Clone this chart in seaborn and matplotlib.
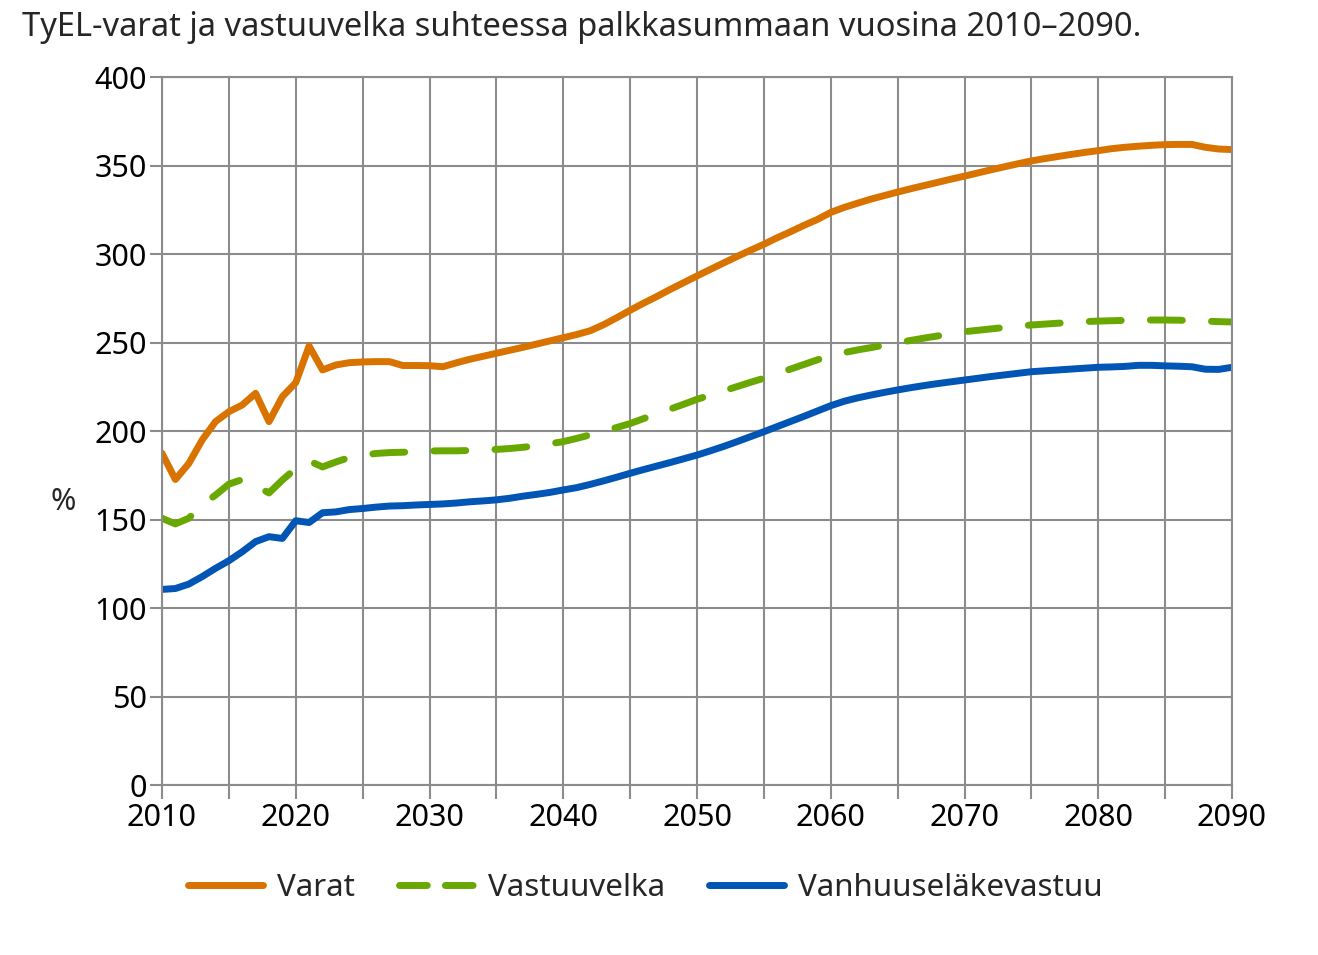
import pandas as pd
import matplotlib.pyplot as plt
import seaborn as sns

# TyEL-varat ja vastuuvelka suhteessa palkkasummaan, % (luettu kuvasta)
vuodet = list(range(2010, 2091))

varat = [
    187.4, 172.6, 181.6, 194.9, 205.3, 210.9, 214.7, 221.3, 205.3, 219.4,
    227.3, 248.0, 234.5, 237.3, 238.6, 239.0, 239.2, 239.2, 237.0, 237.0,
    236.9, 236.3, 238.5, 240.5, 242.2, 243.9, 245.6, 247.3, 249.1, 250.9,
    252.7, 254.5, 256.6, 260.0, 264.0, 268.2, 272.2, 276.0, 280.0, 283.8,
    287.6, 291.3, 295.0, 298.6, 302.1, 305.5, 309.2, 312.6, 316.2, 319.5,
    323.5, 326.3, 328.7, 331.0, 333.0, 335.0, 336.9, 338.7, 340.5, 342.3,
    344.0, 345.8, 347.6, 349.3, 351.0, 352.6, 353.9, 355.1, 356.3, 357.4,
    358.4, 359.5, 360.3, 360.9, 361.4, 361.8, 361.9, 361.9, 360.3, 359.3,
    359.0,
]

vastuuvelka = [
    150.7, 147.5, 150.7, 158.2, 163.8, 170.0, 172.6, 169.0, 165.0, 172.3,
    178.8, 183.1, 179.7, 182.5, 185.0, 186.4, 187.3, 187.8, 188.0, 188.3,
    188.7, 188.8, 188.8, 189.0, 189.3, 189.6, 190.1, 190.8, 191.7, 192.8,
    194.0, 195.8, 197.8, 199.9, 202.0, 204.2, 207.0, 209.7, 212.4, 215.1,
    217.9, 220.3, 222.7, 225.1, 227.5, 229.8, 232.4, 235.0, 237.6, 240.2,
    242.6, 244.3, 245.8, 247.1, 248.5, 249.9, 251.2, 252.5, 253.7, 254.9,
    256.1, 256.9, 257.7, 258.5, 259.2, 259.9, 260.4, 260.9, 261.4, 261.8,
    262.1, 262.3, 262.5, 262.6, 262.7, 262.7, 262.6, 262.4, 262.1, 261.8,
    261.6,
]

vanhuuselakevastuu = [
    110.5, 111.0, 113.5, 117.7, 122.4, 126.7, 131.8, 137.5, 140.3, 139.3,
    149.3, 148.3, 153.8, 154.3, 155.6, 156.2, 157.0, 157.6, 157.8, 158.2,
    158.5, 158.8, 159.3, 160.0, 160.5, 161.1, 162.0, 163.2, 164.2, 165.3,
    166.7, 168.0, 169.8, 171.8, 173.9, 176.1, 178.2, 180.2, 182.2, 184.3,
    186.4, 188.8, 191.3, 194.0, 196.8, 199.6, 202.5, 205.4, 208.3, 211.3,
    214.3, 216.8, 218.7, 220.3, 221.8, 223.2, 224.5, 225.7, 226.8, 227.8,
    228.8, 229.8, 230.8, 231.7, 232.6, 233.5, 234.0, 234.5, 235.0, 235.5,
    236.0, 236.2, 236.5, 237.1, 237.1, 236.8, 236.6, 236.3, 234.9, 234.8,
    236.0,
]

sarjat = ["Varat", "Vastuuvelka", "Vanhuuseläkevastuu"]
varit = {"Varat": "#d97300", "Vastuuvelka": "#69a800", "Vanhuuseläkevastuu": "#0055b5"}
viivat = {"Varat": "", "Vastuuvelka": (4.6, 4.2), "Vanhuuseläkevastuu": ""}

df = pd.DataFrame({
    "vuosi": vuodet,
    "Varat": varat,
    "Vastuuvelka": vastuuvelka,
    "Vanhuuseläkevastuu": vanhuuselakevastuu,
}).melt(id_vars="vuosi", var_name="sarja", value_name="arvo")

sns.set_theme(style="whitegrid")
plt.rcParams["font.family"] = ["Noto Sans", "DejaVu Sans"]

fig = plt.figure(figsize=(13.18, 9.55), dpi=100)
ax = fig.add_axes([162 / 1318, 1 - 785 / 955, 1070 / 1318, 708 / 955])

sns.lineplot(data=df, x="vuosi", y="arvo", hue="sarja", style="sarja",
             hue_order=sarjat, style_order=sarjat, palette=varit,
             dashes=viivat, linewidth=5, ax=ax, legend=True)

for ln in ax.lines:
    ln.set_solid_capstyle("round")
    ln.set_dash_capstyle("round")
    ln.set_solid_joinstyle("round")

ax.set_xlim(2010, 2090)
ax.set_ylim(0, 400)
ax.set_xticks(range(2010, 2091, 10))
ax.set_xticks(range(2015, 2090, 10), minor=True)
ax.set_yticks(range(0, 401, 50))
ax.set_xlabel("")
ax.set_ylabel("")

gc = "#8c8c8c"
ax.grid(True, which="both", color=gc, linewidth=1.5)
for s in ax.spines.values():
    s.set_color(gc)
    s.set_linewidth(1.5)
ax.tick_params(axis="both", which="both", colors=gc, width=1.5,
               labelcolor="black", labelsize=22)
ax.tick_params(axis="x", which="both", direction="out", length=10, bottom=True, pad=3)
ax.tick_params(axis="y", direction="out", length=9, left=True, pad=2)
ax.set_facecolor("white")

fig.text(22 / 1318, 1 - 28 / 955, "TyEL-varat ja vastuuvelka suhteessa palkkasummaan vuosina 2010–2090.",
         fontsize=23.5, ha="left", va="center")
fig.text(63 / 1318, 1 - 502 / 955, "%", fontsize=22, ha="center", va="center")

handles, labels = ax.get_legend_handles_labels()
ax.legend_.remove()
for h in handles:
    h.set_solid_capstyle("round")
    h.set_dash_capstyle("round")
    if h.get_label() == "Vastuuvelka":
        h.set_dashes((4.0, 2.6))
fig.legend(handles, labels, loc="center", bbox_to_anchor=(645 / 1318, 1 - 888 / 955),
           ncol=3, frameon=False, fontsize=22.5, handlelength=2.4,
           handletextpad=0.45, columnspacing=1.4)

fig.savefig("out.png", dpi=100)
